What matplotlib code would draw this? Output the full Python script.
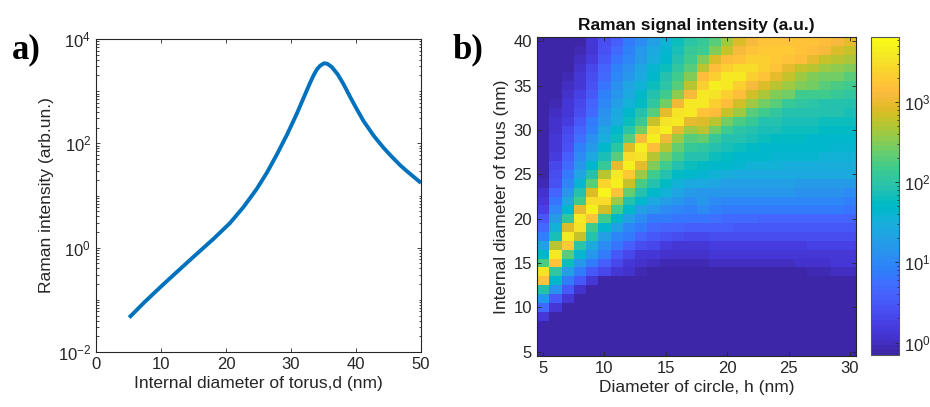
import numpy as np
import matplotlib
matplotlib.use("Agg")
import matplotlib.pyplot as plt
from matplotlib.colors import ListedColormap, LogNorm
from matplotlib.ticker import LogLocator, FixedLocator, NullFormatter, LogFormatterSciNotation

plt.rcParams["font.family"] = ["Liberation Sans", "DejaVu Sans"]
plt.rcParams["mathtext.default"] = "regular"

# ---- panel a: Raman intensity against internal torus diameter ----
torus_d = [5.1, 7.5, 10.3, 12.8, 15.4, 18.0, 20.6, 22.7, 24.7, 26.3, 27.8, 29.4,
           30.9, 32.0, 32.9, 33.5, 34.0, 34.5, 35.1, 35.6, 36.3, 37.2, 38.1,
           39.1, 40.1, 41.15, 42.7, 44.2, 45.3, 46.8, 47.8, 50.0]
raman_intensity = [0.0457, 0.0912, 0.195, 0.376, 0.741, 1.445, 2.95, 6.03, 13.2,
                   27.5, 60.3, 148, 372, 776, 1413, 2042, 2630, 3090, 3428, 3350,
                   2884, 2089, 1349, 776, 457, 269, 141, 83.2, 58.9, 38.0, 29.5,
                   17.4]

# ---- panel b: log10 of the Raman signal on the (h, d) grid ----
circle_h = list(range(5, 31))          # columns
torus_d_rows = list(range(40, 4, -1))  # rows, top (40 nm) to bottom (5 nm)

# one list per circle diameter h, values for d = 40, 39, ..., 5
log10_signal_by_h = [
    # h = 5
    [-.15, -.15, -.15, -.15, -.15, -.15, -.15, -.15,
     -.15, -.15, -.15, -.15, -.15, -.15, -.15, -.15,
     -.05, .05, .10, .25, .50, .70, .90, 1.30,
     1.70, 2.25, 3.55, 3.20, 1.95, 1.15, .70, .15,
     -.15, -.15, -.15, -.15],
    # h = 6
    [-.15, -.15, -.15, -.15, -.15, -.15, -.15, -.05,
     .00, .05, .05, .10, .15, .20, .30, .35,
     .45, .60, .80, 1.00, 1.25, 1.55, 1.85, 2.75,
     3.60, 3.20, 2.05, 1.65, 1.10, .50, .15, -.15,
     -.15, -.15, -.15, -.15],
    # h = 7
    [-.15, -.15, -.15, -.15, -.05, .00, .05, .10,
     .15, .20, .30, .35, .45, .55, .70, .85,
     1.00, 1.20, 1.45, 1.65, 2.05, 2.90, 3.60, 3.30,
     2.30, 1.80, 1.30, .85, .50, .15, -.15, -.15,
     -.15, -.15, -.15, -.15],
    # h = 8
    [-.10, -.05, .00, .05, .10, .15, .25, .30,
     .40, .50, .60, .75, .90, 1.05, 1.15, 1.35,
     1.60, 1.95, 2.20, 2.95, 3.60, 3.55, 2.80, 2.00,
     1.60, 1.15, .85, .50, .05, -.15, -.15, -.15,
     -.15, -.15, -.15, -.15],
    # h = 9
    [.10, .15, .20, .30, .35, .45, .50, .60,
     .70, .85, .95, 1.10, 1.25, 1.45, 1.65, 1.90,
     2.30, 2.90, 3.45, 3.65, 3.20, 2.20, 1.90, 1.45,
     1.15, .85, .50, .15, -.15, -.15, -.15, -.15,
     -.15, -.15, -.15, -.15],
    # h = 10
    [.35, .45, .50, .60, .70, .80, .90, 1.00,
     1.10, 1.20, 1.35, 1.50, 1.65, 1.85, 2.10, 2.70,
     3.40, 3.70, 3.45, 2.85, 2.20, 1.65, 1.30, 1.05,
     .85, .55, .30, -.10, -.15, -.15, -.15, -.15,
     -.15, -.15, -.15, -.15],
    # h = 11
    [.55, .70, .80, .90, 1.00, 1.10, 1.20, 1.30,
     1.40, 1.50, 1.65, 1.80, 2.00, 2.30, 3.00, 3.60,
     3.65, 3.20, 2.60, 2.20, 1.65, 1.30, 1.00, .80,
     .50, .30, .15, -.15, -.15, -.15, -.15, -.15,
     -.15, -.15, -.15, -.15],
    # h = 12
    [.85, .95, 1.00, 1.10, 1.20, 1.35, 1.45, 1.55,
     1.65, 1.80, 2.00, 2.30, 2.90, 3.50, 3.65, 3.30,
     2.80, 2.35, 1.95, 1.65, 1.30, 1.00, .85, .55,
     .30, .15, .05, -.15, -.15, -.15, -.15, -.15,
     -.15, -.15, -.15, -.15],
    # h = 13
    [1.05, 1.15, 1.25, 1.35, 1.45, 1.55, 1.65, 1.75,
     1.90, 2.10, 2.40, 3.10, 3.65, 3.55, 3.00, 2.60,
     2.25, 1.95, 1.65, 1.30, 1.05, .85, .65, .35,
     .15, .05, -.05, -.15, -.15, -.15, -.15, -.15,
     -.15, -.15, -.15, -.15],
    # h = 14
    [1.30, 1.40, 1.50, 1.60, 1.70, 1.80, 1.90, 2.05,
     2.30, 2.80, 3.50, 3.65, 3.15, 2.75, 2.45, 2.20,
     1.95, 1.70, 1.45, 1.15, .85, .70, .50, .30,
     .10, .00, -.10, -.15, -.15, -.15, -.15, -.15,
     -.15, -.15, -.15, -.15],
    # h = 15
    [1.55, 1.60, 1.70, 1.80, 1.90, 2.00, 2.15, 2.40,
     2.95, 3.55, 3.65, 3.05, 2.70, 2.40, 2.15, 1.95,
     1.75, 1.55, 1.30, 1.05, .85, .65, .45, .20,
     .05, -.05, -.15, -.15, -.15, -.15, -.15, -.15,
     -.15, -.15, -.15, -.15],
    # h = 16
    [1.80, 1.85, 1.95, 2.05, 2.15, 2.30, 2.55, 3.05,
     3.55, 3.60, 3.00, 2.60, 2.35, 2.15, 1.95, 1.75,
     1.55, 1.35, 1.15, 1.00, .80, .60, .35, .15,
     .05, -.05, -.15, -.15, -.15, -.15, -.15, -.15,
     -.15, -.15, -.15, -.15],
    # h = 17
    [2.00, 2.10, 2.20, 2.30, 2.45, 2.70, 3.10, 3.60,
     3.60, 3.00, 2.60, 2.30, 2.10, 1.95, 1.80, 1.65,
     1.45, 1.25, 1.05, .90, .80, .55, .30, .15,
     .05, -.05, -.15, -.15, -.15, -.15, -.15, -.15,
     -.15, -.15, -.15, -.15],
    # h = 18
    [2.10, 2.20, 2.50, 2.75, 3.15, 3.35, 3.60, 3.60,
     3.25, 2.90, 2.70, 2.35, 2.05, 1.95, 1.75, 1.60,
     1.40, 1.20, 1.15, 1.05, .80, .55, .30, .15,
     .05, -.05, -.15, -.15, -.15, -.15, -.15, -.15,
     -.15, -.15, -.15, -.15],
    # h = 19
    [2.30, 2.50, 2.90, 3.15, 3.35, 3.65, 3.55, 3.35,
     3.15, 2.70, 2.40, 2.10, 1.95, 1.80, 1.70, 1.55,
     1.35, 1.20, 1.05, .90, .75, .55, .35, .20,
     .10, .00, -.15, -.15, -.15, -.15, -.15, -.15,
     -.15, -.15, -.15, -.15],
    # h = 20
    [2.60, 2.80, 3.15, 3.35, 3.60, 3.60, 3.35, 3.15,
     2.80, 2.40, 2.20, 1.95, 1.85, 1.75, 1.65, 1.50,
     1.30, 1.15, 1.00, .85, .70, .55, .35, .20,
     .10, .00, -.15, -.15, -.15, -.15, -.15, -.15,
     -.15, -.15, -.15, -.15],
    # h = 21
    [2.90, 3.10, 3.25, 3.50, 3.60, 3.35, 3.15, 2.85,
     2.60, 2.25, 2.00, 1.90, 1.80, 1.70, 1.60, 1.45,
     1.30, 1.15, 1.00, .85, .70, .50, .35, .20,
     .10, .00, -.15, -.15, -.15, -.15, -.15, -.15,
     -.15, -.15, -.15, -.15],
    # h = 22
    [3.10, 3.20, 3.35, 3.45, 3.35, 3.10, 2.85, 2.60,
     2.30, 2.10, 1.90, 1.85, 1.75, 1.65, 1.55, 1.45,
     1.30, 1.15, 1.00, .85, .70, .50, .35, .20,
     .10, .00, -.15, -.15, -.15, -.15, -.15, -.15,
     -.15, -.15, -.15, -.15],
    # h = 23
    [3.20, 3.30, 3.35, 3.35, 3.20, 2.90, 2.65, 2.40,
     2.20, 1.95, 1.85, 1.80, 1.70, 1.65, 1.55, 1.45,
     1.30, 1.15, 1.00, .85, .65, .50, .35, .20,
     .10, .00, -.15, -.15, -.15, -.15, -.15, -.15,
     -.15, -.15, -.15, -.15],
    # h = 24
    [3.20, 3.30, 3.30, 3.20, 2.95, 2.70, 2.50, 2.30,
     2.05, 1.90, 1.85, 1.75, 1.70, 1.60, 1.55, 1.45,
     1.30, 1.15, 1.00, .85, .65, .50, .35, .20,
     .10, .00, -.15, -.15, -.15, -.15, -.15, -.15,
     -.15, -.15, -.15, -.15],
    # h = 25
    [3.20, 3.30, 3.20, 2.95, 2.80, 2.60, 2.40, 2.10,
     1.95, 1.85, 1.80, 1.75, 1.70, 1.60, 1.50, 1.40,
     1.30, 1.15, 1.00, .85, .65, .50, .35, .20,
     .10, .00, -.15, -.15, -.15, -.15, -.15, -.15,
     -.15, -.15, -.15, -.15],
    # h = 26
    [3.20, 3.20, 3.15, 2.80, 2.60, 2.45, 2.20, 2.05,
     1.95, 1.85, 1.80, 1.75, 1.65, 1.60, 1.50, 1.40,
     1.25, 1.10, 1.00, .85, .65, .50, .35, .20,
     .10, .05, -.15, -.15, -.15, -.15, -.15, -.15,
     -.15, -.15, -.15, -.15],
    # h = 27
    [3.20, 3.15, 2.95, 2.70, 2.50, 2.40, 2.15, 2.00,
     1.90, 1.85, 1.80, 1.70, 1.65, 1.60, 1.50, 1.40,
     1.25, 1.10, 1.00, .85, .65, .50, .35, .25,
     .15, .05, -.05, -.15, -.15, -.15, -.15, -.15,
     -.15, -.15, -.15, -.15],
    # h = 28
    [3.15, 3.10, 2.80, 2.60, 2.40, 2.30, 2.15, 1.95,
     1.90, 1.80, 1.75, 1.70, 1.65, 1.55, 1.50, 1.40,
     1.25, 1.10, 1.00, .85, .65, .50, .35, .25,
     .15, .05, -.05, -.15, -.15, -.15, -.15, -.15,
     -.15, -.15, -.15, -.15],
    # h = 29
    [3.10, 2.90, 2.70, 2.55, 2.40, 2.25, 2.10, 1.95,
     1.90, 1.80, 1.75, 1.70, 1.60, 1.55, 1.50, 1.40,
     1.25, 1.10, 1.00, .85, .65, .50, .35, .25,
     .15, .10, .00, -.15, -.15, -.15, -.15, -.15,
     -.15, -.15, -.15, -.15],
    # h = 30
    [2.95, 2.80, 2.65, 2.50, 2.30, 2.20, 2.05, 1.95,
     1.85, 1.80, 1.75, 1.70, 1.60, 1.55, 1.50, 1.40,
     1.25, 1.05, .95, .80, .65, .50, .35, .25,
     .15, .10, .00, -.15, -.15, -.15, -.15, -.15,
     -.15, -.15, -.15, -.15],
]

colorbar_ticks = [1e0, 1e1, 1e2, 1e3]
signal_range = (0.7, 6500)

# parula-like colour table
_parula = [
    (0.2422, 0.1504, 0.6603), (0.2504, 0.1650, 0.7076), (0.2578, 0.1818, 0.7511),
    (0.2647, 0.1978, 0.7952), (0.2706, 0.2147, 0.8364), (0.2751, 0.2342, 0.8710),
    (0.2783, 0.2559, 0.8991), (0.2803, 0.2782, 0.9221), (0.2813, 0.3006, 0.9414),
    (0.2810, 0.3228, 0.9579), (0.2795, 0.3447, 0.9717), (0.2760, 0.3667, 0.9829),
    (0.2699, 0.3892, 0.9906), (0.2602, 0.4123, 0.9952), (0.2440, 0.4358, 0.9988),
    (0.2206, 0.4603, 0.9973), (0.1963, 0.4847, 0.9892), (0.1834, 0.5074, 0.9798),
    (0.1786, 0.5289, 0.9682), (0.1764, 0.5499, 0.9520), (0.1687, 0.5703, 0.9359),
    (0.1540, 0.5902, 0.9218), (0.1460, 0.6091, 0.9079), (0.1380, 0.6276, 0.8973),
    (0.1248, 0.6459, 0.8883), (0.1113, 0.6635, 0.8763), (0.0952, 0.6798, 0.8598),
    (0.0689, 0.6948, 0.8394), (0.0297, 0.7082, 0.8163), (0.0036, 0.7203, 0.7917),
    (0.0067, 0.7312, 0.7660), (0.0433, 0.7411, 0.7394), (0.0964, 0.7500, 0.7120),
    (0.1408, 0.7584, 0.6842), (0.1717, 0.7670, 0.6554), (0.1938, 0.7758, 0.6251),
    (0.2161, 0.7843, 0.5923), (0.2470, 0.7918, 0.5567), (0.2906, 0.7973, 0.5188),
    (0.3406, 0.8008, 0.4789), (0.3909, 0.8029, 0.4354), (0.4456, 0.8024, 0.3909),
    (0.5044, 0.7993, 0.3480), (0.5616, 0.7942, 0.3045), (0.6174, 0.7876, 0.2612),
    (0.6720, 0.7793, 0.2227), (0.7242, 0.7698, 0.1910), (0.7738, 0.7598, 0.1646),
    (0.8203, 0.7498, 0.1535), (0.8634, 0.7406, 0.1596), (0.9035, 0.7330, 0.1774),
    (0.9393, 0.7288, 0.2100), (0.9728, 0.7298, 0.2394), (0.9956, 0.7434, 0.2371),
    (0.9970, 0.7659, 0.2199), (0.9952, 0.7893, 0.2028), (0.9892, 0.8136, 0.1885),
    (0.9786, 0.8386, 0.1766), (0.9676, 0.8639, 0.1643), (0.9610, 0.8890, 0.1537),
    (0.9597, 0.9135, 0.1423), (0.9628, 0.9373, 0.1265), (0.9691, 0.9606, 0.1064),
    (0.9769, 0.9839, 0.0805),
]
parula = ListedColormap(_parula, name="parula")

TEXT = "#262626"
AX_EDGE = "#262626"
LINE_BLUE = "#0072BD"
FS_LABEL = 12.5
FS_TICK = 12

fig = plt.figure(figsize=(9.3, 4.07), dpi=100)


def style_axes(ax):
    for s in ax.spines.values():
        s.set_color(AX_EDGE)
        s.set_linewidth(0.8)
    ax.tick_params(which="both", direction="in", top=True, right=True,
                   colors=AX_EDGE, labelcolor=TEXT, labelsize=FS_TICK, width=0.6)
    ax.tick_params(which="major", length=3.2)
    ax.tick_params(which="minor", length=1.8)


# panel a
ax1 = fig.add_axes([96 / 930, 1 - 352 / 407, 325 / 930, 313 / 407])
ax1.plot(torus_d, raman_intensity, color=LINE_BLUE, lw=2.8,
         solid_capstyle="butt", solid_joinstyle="round")
ax1.set_yscale("log")
ax1.set_xlim(0, 50)
ax1.set_ylim(1e-2, 1e4)
ax1.xaxis.set_major_locator(FixedLocator([0, 10, 20, 30, 40, 50]))
ax1.yaxis.set_major_locator(FixedLocator([1e-2, 1e0, 1e2, 1e4]))
ax1.yaxis.set_major_formatter(LogFormatterSciNotation())
ax1.yaxis.set_minor_locator(LogLocator(base=10, subs=np.arange(1, 10), numticks=50))
ax1.yaxis.set_minor_formatter(NullFormatter())
style_axes(ax1)
ax1.set_xlabel("Internal diameter of torus,d (nm)", fontsize=FS_LABEL, color=TEXT, labelpad=3)
ax1.set_ylabel("Raman intensity (arb.un.)", fontsize=FS_LABEL, color=TEXT, labelpad=3)

# panel b
ax2 = fig.add_axes([537 / 930, 1 - 356 / 407, 319 / 930, 319 / 407])
signal = 10.0 ** np.array(log10_signal_by_h).T
mesh = ax2.pcolormesh(circle_h, torus_d_rows, signal, shading="nearest", cmap=parula,
                      norm=LogNorm(vmin=signal_range[0], vmax=signal_range[1]),
                      rasterized=True)
ax2.set_xlim(4.5, 30.5)
ax2.set_ylim(4.5, 40.5)
ax2.set_xticks([5, 10, 15, 20, 25, 30])
ax2.set_yticks([5, 10, 15, 20, 25, 30, 35, 40])
style_axes(ax2)
ax2.set_xlabel("Diameter of circle, h (nm)", fontsize=FS_LABEL, color=TEXT, labelpad=3)
ax2.set_ylabel("Internal diameter of torus (nm)", fontsize=FS_LABEL, color=TEXT, labelpad=3)
ax2.set_title("Raman signal intensity (a.u.)", fontsize=FS_LABEL, fontweight="bold",
              color="#111111", pad=5)

cax = fig.add_axes([871 / 930, 1 - 355 / 407, 28 / 930, 318 / 407])
cb = fig.colorbar(mesh, cax=cax)
cb.set_ticks(colorbar_ticks)
cb.ax.yaxis.set_major_formatter(LogFormatterSciNotation())
cb.ax.yaxis.set_minor_locator(LogLocator(base=10, subs=np.arange(1, 10), numticks=50))
cb.ax.yaxis.set_minor_formatter(NullFormatter())
cb.outline.set_edgecolor("#555555")
cb.outline.set_linewidth(0.8)
cb.ax.tick_params(which="both", direction="in", colors=AX_EDGE, labelcolor=TEXT,
                  labelsize=FS_TICK, width=0.6)
cb.ax.tick_params(which="major", length=3.2)
cb.ax.tick_params(which="minor", length=1.8)

# panel letters
fig.text(12 / 930, 1 - 58 / 407, "a)", fontsize=25, fontweight="bold",
         family=["Liberation Serif", "DejaVu Serif"], color="black", va="baseline")
fig.text(452 / 930, 1 - 58 / 407, "b)", fontsize=25, fontweight="bold",
         family=["Liberation Serif", "DejaVu Serif"], color="black", va="baseline")

fig.savefig("out.png", dpi=100)
